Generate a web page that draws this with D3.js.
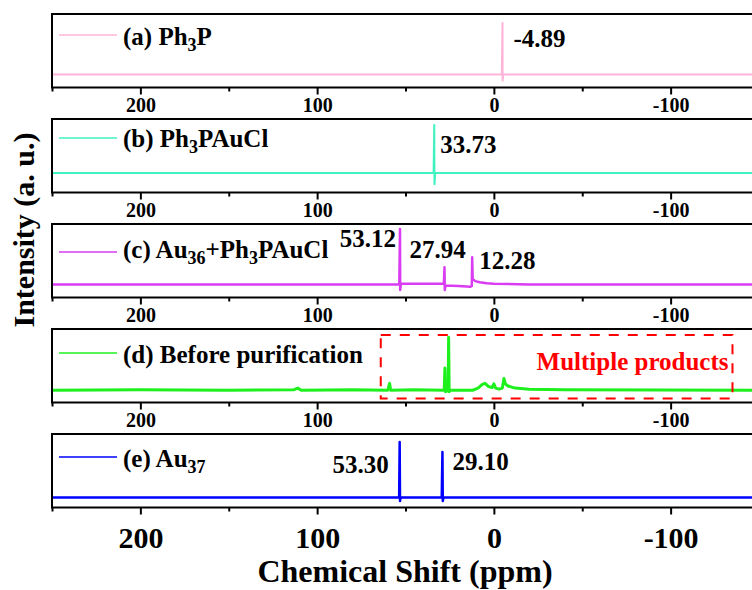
<!DOCTYPE html>
<html>
<head>
<meta charset="utf-8">
<script src="https://cdn.jsdelivr.net/npm/d3@7"></script>
<style>
  body { margin: 0; background: #fff; }
  svg text { font-family: "Liberation Serif", "Times New Roman", serif; font-weight: bold; }
</style>
</head>
<body>
<svg id="chart"></svg>
<script>
// 31P NMR spectra, [ppm, relative intensity]
const specA = [[250, 0], [-4.5, 0], [-4.89, 1.0], [-4.95, -0.12], [-5.3, 0], [-150, 0]];
const specB = [[250, 0], [34.1, 0], [33.73, 1.0], [33.6, -0.23], [33.2, 0], [-150, 0]];
const specC = [[250, 0], [53.5, 0], [53.12, 1.0], [53.0, -0.1], [52.6, 0.01],
  [28.3, 0.01], [27.94, 0.31], [27.8, -0.1], [27.4, -0.02], [20, -0.03], [13.2, -0.04], [12.5, -0.03], [12.28, 0.49],
  [12.0, 0.1], [10.5, 0.06], [8, 0.04], [4, 0.02], [0, 0.01], [-20, 0], [-150, 0]];
const specD = [[250, 0], [200, 0.01], [150, 0], [113, 0.01], [111, 0.04], [109, 0], [80, 0.01], [60, 0], [59, 0.13], [58.4, 0],
  [45, 0.01], [28.1, 0], [27.7, 0.42], [27.4, -0.03], [25.9, 0], [25.6, 1.0], [25.3, -0.03], [24.8, 0],
  [12, 0], [9, 0.04], [6.5, 0.11], [5, 0.13], [3, 0.07], [1, 0.05], [0, 0.12], [-1, 0.04], [-3, 0.02],
  [-4.8, 0.04], [-5.7, 0.22], [-6.5, 0.12], [-8, 0.08], [-12, 0.04], [-20, 0.02], [-40, 0.01], [-150, 0]];
const specE = [[250, 0], [53.6, 0], [53.30, 1.0], [53.1, -0.06], [52.8, 0], [29.5, 0], [29.10, 0.82], [28.9, -0.06], [28.5, 0], [-150, 0]];

const spectra = [specA, specB, specC, specD, specE];
const colors = ['#ffb3d9', '#3ff2c0', '#d93cf2', '#1ef01e', '#0000ff'];
const strokeW = [2, 2, 2.5, 3, 2.5];

// legend text, split into [text, isSubscript]
const legendParts = [
  [['(a) Ph', 0], ['3', 1], ['P', 0]],
  [['(b) Ph', 0], ['3', 1], ['PAuCl', 0]],
  [['(c) Au', 0], ['36', 1], ['+Ph', 0], ['3', 1], ['PAuCl', 0]],
  [['(d) Before purification', 0]],
  [['(e) Au', 0], ['37', 1]]
];

// peak labels: panel, text, ppm, intensity of the apex
const peakPanel = [0, 1, 2, 2, 2, 4, 4];
const peakText = ['-4.89', '33.73', '53.12', '27.94', '12.28', '53.30', '29.10'];
const peakPpm = [-4.89, 33.73, 53.12, 27.94, 12.28, 53.30, 29.10];
const peakVal = [1.0, 1.0, 1.0, 0.31, 0.49, 1.0, 0.82];

const majorTicks = [200, 100, 0, -100];
const minorTicks = [250, 150, 50, -50, -150];

// layout
const W = 752, H = 590;
const panelH = 73.5;
const panelTop = i => 14 + 105 * i;
const yDomains = [[-0.255, 1.176], [-0.404, 1.127], [-0.236, 1.09], [-0.231, 1.154], [-0.178, 1.143]];
const legendLineY = [21, 19, 28, 24, 23];
const legendTextDy = [10, 9, 6, 10, 10];
const labelDx = [11, 6, -4, -35, 7, -11, 10];
const labelDy = [24, 28, 18, -9, 12, 31, 18];
const labelAnchor = ['start', 'start', 'end', 'start', 'start', 'end', 'start'];

const svg = d3.select('#chart').attr('width', W).attr('height', H);

const x = d3.scaleLinear().domain([250, -150]).range([52, 759]);

const line = d3.line().x(d => x(d[0]));

spectra.forEach((spec, i) => {
  const top = panelTop(i), bottom = top + panelH;
  const y = d3.scaleLinear().domain(yDomains[i]).range([bottom, top]);
  const g = svg.append('g');

  g.append('clipPath').attr('id', 'clip' + i)
    .append('rect').attr('x', x(250)).attr('y', top).attr('width', x(-150) - x(250)).attr('height', panelH);

  g.append('path')
    .datum(spec)
    .attr('clip-path', `url(#clip${i})`)
    .attr('fill', 'none')
    .attr('stroke', colors[i])
    .attr('stroke-width', strokeW[i])
    .attr('stroke-linejoin', 'round')
    .attr('d', line.y(d => y(d[1])));

  // frame
  g.append('rect')
    .attr('x', x(250)).attr('y', top)
    .attr('width', x(-150) - x(250)).attr('height', panelH)
    .attr('fill', 'none').attr('stroke', '#000').attr('stroke-width', 2);

  const last = i === spectra.length - 1;

  const ax = g.append('g')
    .attr('transform', `translate(0,${bottom})`)
    .call(d3.axisBottom(x).tickValues(majorTicks).tickSize(7).tickFormat(d => String(d)));
  ax.select('.domain').remove();
  ax.selectAll('line').attr('stroke-width', 2);
  ax.selectAll('text')
    .attr('y', last ? 40 : 24).attr('dy', 0)
    .attr('fill', '#000')
    .style('font-family', '"Liberation Serif", "Times New Roman", serif')
    .style('font-weight', 'bold')
    .style('font-size', last ? '30px' : '20px');

  const minor = g.append('g')
    .attr('transform', `translate(0,${bottom})`)
    .call(d3.axisBottom(x).tickValues(minorTicks).tickSize(4).tickFormat(''));
  minor.select('.domain').remove();
  minor.selectAll('line').attr('stroke-width', 2);

  // legend
  const ly = top + legendLineY[i];
  g.append('line')
    .attr('x1', 59).attr('x2', 117).attr('y1', ly).attr('y2', ly)
    .attr('stroke', colors[i]).attr('stroke-width', 1.6);
  const t = g.append('text')
    .attr('x', 123).attr('y', ly + legendTextDy[i])
    .style('font-size', '25px');
  let shifted = false;
  legendParts[i].forEach(([s, sub]) => {
    const ts = t.append('tspan').text(s);
    if (sub && !shifted) { ts.attr('dy', 6).style('font-size', '18px'); shifted = true; }
    else if (sub) { ts.style('font-size', '18px'); }
    else if (shifted) { ts.attr('dy', -6); shifted = false; }
  });

  // peak labels
  peakPanel.forEach((p, k) => {
    if (p !== i) return;
    g.append('text')
      .attr('x', x(peakPpm[k]) + labelDx[k])
      .attr('y', y(peakVal[k]) + labelDy[k])
      .attr('text-anchor', labelAnchor[k])
      .style('font-size', '25px')
      .text(peakText[k]);
  });

  // dashed box for the crude product
  if (i === 3) {
    const bx0 = x(64), bx1 = x(-135), by0 = y(1.04), by1 = y(-0.155);
    g.append('rect')
      .attr('x', bx0).attr('y', by0).attr('width', bx1 - bx0).attr('height', by1 - by0)
      .attr('fill', 'none').attr('stroke', '#ff0000').attr('stroke-width', 2)
      .attr('stroke-dasharray', '10,9');
    g.append('text')
      .attr('x', bx1 - 4).attr('y', by0 + 35)
      .attr('text-anchor', 'end')
      .attr('fill', '#ff0000')
      .style('font-size', '25px')
      .text('Multiple products');
  }
});

// axis titles
svg.append('text')
  .attr('transform', 'translate(34,230) rotate(-90)')
  .attr('text-anchor', 'middle')
  .style('font-size', '30px')
  .text('Intensity (a. u.)');

svg.append('text')
  .attr('x', 405).attr('y', 582)
  .attr('text-anchor', 'middle')
  .style('font-size', '32px')
  .text('Chemical Shift (ppm)');
</script>
</body>
</html>
